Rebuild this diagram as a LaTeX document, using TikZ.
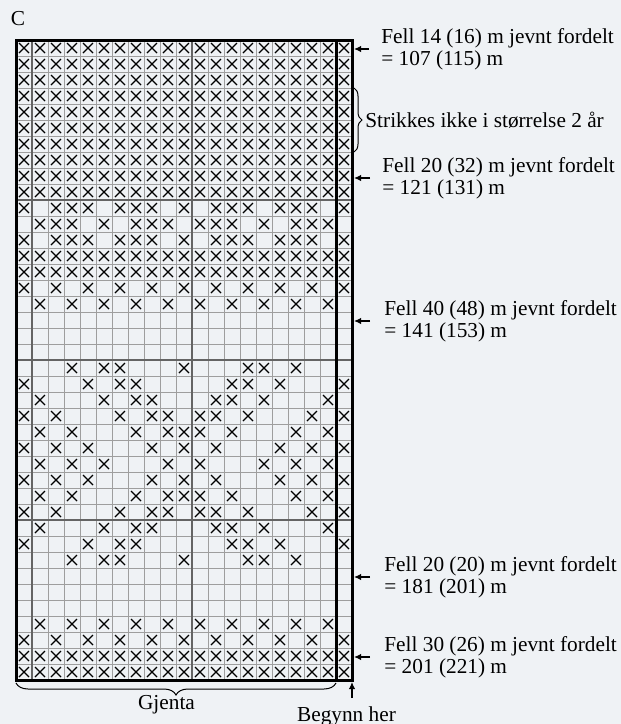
\documentclass[tikz,border=0pt]{standalone}
\usepackage{fontspec}
\setmainfont{Liberation Serif}
\usetikzlibrary{arrows.meta,positioning,decorations.pathreplacing}
\definecolor{chartbg}{RGB}{239,242,245}
\definecolor{gridgray}{RGB}{158,158,158}
\definecolor{griddark}{RGB}{100,100,100}
\tikzset{
  gridln/.style={draw=gridgray, line width=0.5pt},
  gridmid/.style={draw=griddark, line width=0.65pt},
  frameln/.style={draw=black, line width=1.5pt},
  xmark/.style={draw=black, line width=0.6pt},
  note/.style={anchor=west, align=left, inner sep=0pt,
               font=\fontsize{10.65}{10.9}\selectfont},
  lbl/.style={inner sep=0pt, font=\fontsize{10.65}{10.9}\selectfont},
  ar/.style={-{Latex[length=3.5pt,width=3.2pt]}, line width=0.6pt},
  brc/.style={decorate, decoration={brace, amplitude=#1}, line width=0.5pt},
}
% one knitted stitch mark in column #1, row #2 (rows counted from the top)
\newcommand{\stitchx}[2]{%
  \draw[xmark] ({16*#1+3},{24+16*#2+3}) -- ({16*#1+13},{24+16*#2+13});
  \draw[xmark] ({16*#1+3},{24+16*#2+13}) -- ({16*#1+13},{24+16*#2+3});}

\begin{document}
\begin{tikzpicture}[x=0.5pt,y=-0.5pt]

% canvas = reference size in px (1px = 0.5pt)
\fill[chartbg] (0,0) rectangle (621,724);
\useasboundingbox (0,0) rectangle (621,724);

% ================= grid: 20-stitch repeat + 1 edge stitch, 40 rows =================
\foreach \k in {1,...,22} \draw[gridln] ({16*\k},40) -- ({16*\k},680);
\foreach \k in {0,...,40} \draw[gridln] (16,{40+16*\k}) -- (352,{40+16*\k});
% every tenth line, counted from bottom right
\foreach \xx in {32,192} \draw[gridmid] (\xx,40) -- (\xx,680);
\foreach \yy in {200,360,520} \draw[gridmid] (16,\yy) -- (352,\yy);

% ================= stitches (row / columns) =================
\foreach \r/\cl in {
   1/{1,...,21}, 2/{1,...,21}, 3/{1,...,21}, 4/{1,...,21}, 5/{1,...,21},
   6/{1,...,21}, 7/{1,...,21}, 8/{1,...,21}, 9/{1,...,21},10/{1,...,21},
  11/{1,3,4,5,7,8,9,11,13,14,15,17,18,19,21},
  12/{2,3,4,6,8,9,10,12,13,14,16,18,19,20},
  13/{1,3,4,5,7,8,9,11,13,14,15,17,18,19,21},
  14/{1,...,21},15/{1,...,21},
  16/{1,3,...,21},17/{2,4,...,20},
  21/{4,6,7,11,15,16,18},
  22/{1,5,7,8,14,15,17,21},
  23/{2,6,8,9,13,14,16,20},
  24/{1,3,7,9,10,12,13,15,19,21},
  25/{2,4,8,10,11,12,14,18,20},
  26/{1,3,5,9,11,13,17,19,21},
  27/{2,4,6,10,12,16,18,20},
  28/{1,3,5,9,11,13,17,19,21},
  29/{2,4,8,10,11,12,14,18,20},
  30/{1,3,7,9,10,12,13,15,19,21},
  31/{2,6,8,9,13,14,16,20},
  32/{1,5,7,8,14,15,17,21},
  33/{4,6,7,11,15,16,18},
  37/{2,4,...,20},38/{1,3,...,21},
  39/{1,...,21},40/{1,...,21}}
  {\foreach \c in \cl {\stitchx{\c}{\r}}}

% ================= frame =================
\draw[frameln] (16,40) rectangle (352,680);
\draw[frameln] (336,40) -- (336,680);
\coordinate (edgeR) at (354,0);

% ================= heading =================
\node[lbl] (chartC) at (18,19) {C};

% ================= decrease notes =================
\node[note] (fell1) at (381,49) {Fell 14 (16) m jevnt fordelt\\= 107 (115) m};
\node[note] (fell2) at (382,178) {Fell 20 (32) m jevnt fordelt\\= 121 (131) m};
\node[note] (fell3) at (384,321) {Fell 40 (48) m jevnt fordelt\\= 141 (153) m};
\node[note] (fell4) at (384,577) {Fell 20 (20) m jevnt fordelt\\= 181 (201) m};
\node[note] (fell5) at (384,657) {Fell 30 (26) m jevnt fordelt\\= 201 (221) m};

\draw[ar] ([xshift=-6pt]fell1.west) -- (fell1.west -| edgeR);
\draw[ar] ([xshift=-6pt]fell2.west) -- (fell2.west -| edgeR);
\draw[ar] ([xshift=-7pt]fell3.west) -- (fell3.west -| edgeR);
\draw[ar] ([xshift=-7pt]fell4.west) -- (fell4.west -| edgeR);
\draw[ar] ([xshift=-7pt]fell5.west) -- (fell5.west -| edgeR);

% ================= size note =================
\coordinate (skipTop) at (354,88);
\coordinate (skipBot) at (354,152);
\draw[brc=4pt] (skipTop) -- (skipBot);
\node[note] (skip) at (365,120) {Strikkes ikke i størrelse 2 år};

% ================= repeat and start =================
\coordinate (repR) at (336,683);
\coordinate (repL) at (16,683);
\draw[brc=6pt] (repR) -- (repL);
\node[lbl] (gjenta) at (166.5,705) {Gjenta};

\node[lbl] (begynn) at (346.5,716) {Begynn her};
\coordinate (startTail) at (352,698);
\coordinate (startTip) at (352,682);
\draw[ar] (startTail) -- (startTip);

\end{tikzpicture}
\end{document}
